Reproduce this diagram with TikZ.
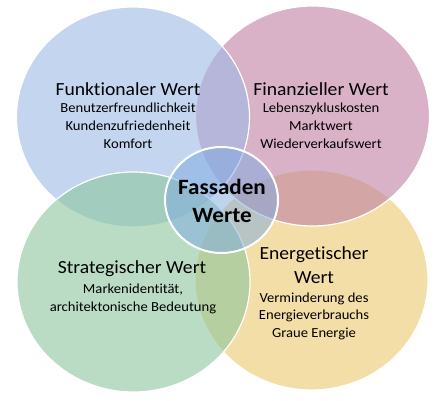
\documentclass[tikz,border=0pt]{standalone}
\usepackage{fontspec}
\setmainfont{Carlito}[FakeStretch=1.06,Ligatures=NoCommon]

\definecolor{gelbwert}{RGB}{238,200,110}
\definecolor{rosawert}{RGB}{192,128,163}
\definecolor{blauwert}{RGB}{158,185,230}
\definecolor{gruenwert}{RGB}{140,198,157}
\definecolor{mittewert}{RGB}{125,170,225}

\begin{document}
\begin{tikzpicture}[x=1pt,y=-1pt,
  kreis/.style={fill opacity=0.6,draw=white,draw opacity=1,line width=1.2pt},
  titel/.style={font=\fontsize{18.5}{24}\selectfont,anchor=base,inner sep=0pt,align=center},
  unter/.style={font=\fontsize{13.8}{18}\selectfont,anchor=base,inner sep=0pt,align=center}]
\useasboundingbox (0,0) rectangle (445,400);
\fill[white] (0,0) rectangle (445,400);

% Kreise
\coordinate (gelb) at (311.5,280);
\coordinate (rosa) at (312.5,116);
\coordinate (blau) at (133,117);
\coordinate (gruen) at (133.5,282);
\coordinate (mitte) at (221.5,200);

\filldraw[kreis,fill=gelbwert] (gelb) ellipse [x radius=116.5,y radius=110];
\filldraw[kreis,fill=rosawert] (rosa) ellipse [x radius=117,y radius=110];
\filldraw[kreis,fill=blauwert] (blau) ellipse [x radius=116.5,y radius=110];
\filldraw[kreis,fill=gruenwert] (gruen) ellipse [x radius=116.5,y radius=110];
\filldraw[kreis,fill=mittewert,fill opacity=0.5,line width=2pt] (mitte) ellipse [x radius=56.5,y radius=53];

% Texte (base = Grundlinie der letzten Zeile)
\node[titel] (funk) at (128,95) {Funktionaler Wert};
\node[unter] (funkunter) at (128,148) {Benutzerfreundlichkeit\\Kundenzufriedenheit\\Komfort};

\node[titel] (fin) at (321,95) {Finanzieller Wert};
\node[unter] (finunter) at (321,148) {Lebenszykluskosten\\Marktwert\\Wiederverkaufswert};

\node[titel] (strat) at (132,273) {Strategischer Wert};
\node[unter] (stratunter) at (133,311) {Markenidentität,\\architektonische Bedeutung};

\node[titel] (energ) at (314,283) {Energetischer\\Wert};
\node[unter,font=\fontsize{13.8}{17.5}\selectfont] (energunter) at (314,337) {Verminderung des\\Energieverbrauchs\\Graue Energie};

\node[titel,font=\bfseries\fontsize{21.8}{28}\selectfont] (fassaden) at (222,222) {Fassaden\\Werte};
\end{tikzpicture}
\end{document}
